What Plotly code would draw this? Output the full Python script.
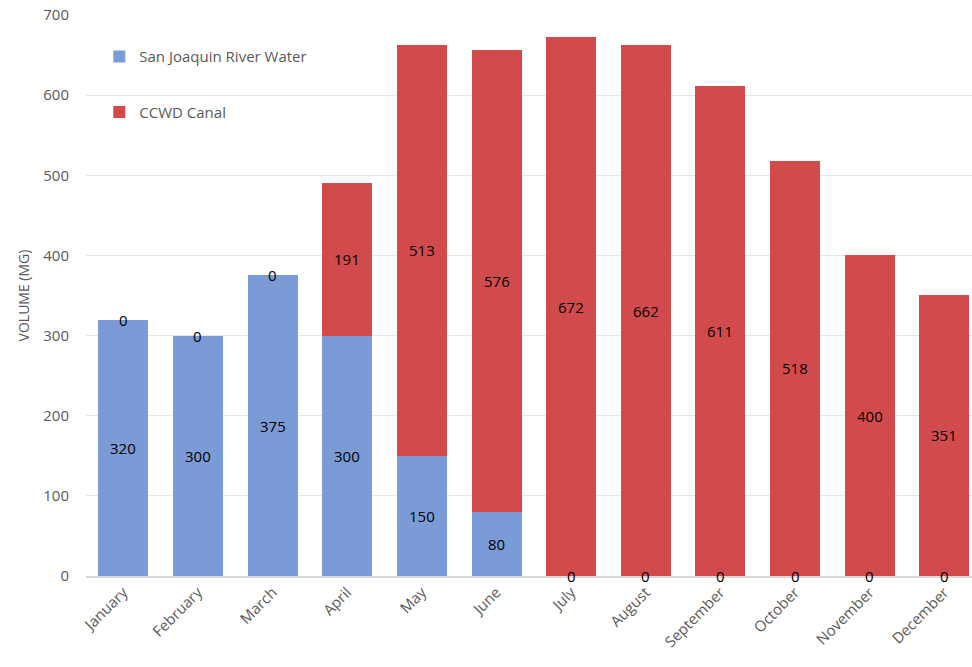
import plotly.graph_objects as go

months = ["January", "February", "March", "April", "May", "June", "July",
          "August", "September", "October", "November", "December"]
san_joaquin = [320, 300, 375, 300, 150, 80, 0, 0, 0, 0, 0, 0]
ccwd_canal = [0, 0, 0, 191, 513, 576, 672, 662, 611, 518, 400, 351]

BLUE = "#7A9BD6"
RED = "#D24B4C"
FONT = "Open Sans, Noto Sans, sans-serif"

fig = go.Figure()
fig.add_trace(go.Bar(x=months, y=san_joaquin, name="San Joaquin River Water",
                     marker=dict(color=BLUE, line=dict(width=0)),
                     legendgroup="a"))
fig.add_trace(go.Bar(x=months, y=ccwd_canal, name="CCWD Canal",
                     marker=dict(color=RED, line=dict(width=0)),
                     legendgroup="b"))

# segment value labels centred on each stacked segment
annotations = []
for i, m in enumerate(months):
    b = san_joaquin[i]
    r = ccwd_canal[i]
    annotations.append(dict(x=m, y=b / 2, text=str(b), showarrow=False,
                            font=dict(size=15, color="#000000", family=FONT)))
    annotations.append(dict(x=m, y=b + r / 2, text=str(r), showarrow=False,
                            font=dict(size=15, color="#000000", family=FONT)))

fig.update_layout(
    barmode="stack",
    bargap=0.33,
    width=972, height=667,
    margin=dict(l=86, r=0, t=15, b=91),
    paper_bgcolor="white", plot_bgcolor="white",
    font=dict(family=FONT, color="#595959", size=14),
    showlegend=True,
    legend=dict(x=0.015, y=0.955, xanchor="left", yanchor="top",
                bgcolor="rgba(0,0,0,0)", tracegroupgap=33,
                font=dict(size=15, color="#595959", family=FONT),
                itemwidth=30),
    annotations=annotations,
    xaxis=dict(range=[-0.5, 11.37], tickangle=-45, showgrid=False,
               showline=True, linecolor="#D9D9D9", linewidth=1.5,
               ticks="", tickfont=dict(size=15, color="#595959")),
    yaxis=dict(range=[0, 700], dtick=100, showgrid=True, gridcolor="#E6E6E6",
               gridwidth=1, zeroline=False, showline=False, ticks="",
               ticklabelstandoff=16,
               tickfont=dict(size=15, color="#595959"),
               title=dict(text="VOLUME (MG)", standoff=10,
                          font=dict(size=14, color="#595959"))),
)

fig.write_html("out.html")
